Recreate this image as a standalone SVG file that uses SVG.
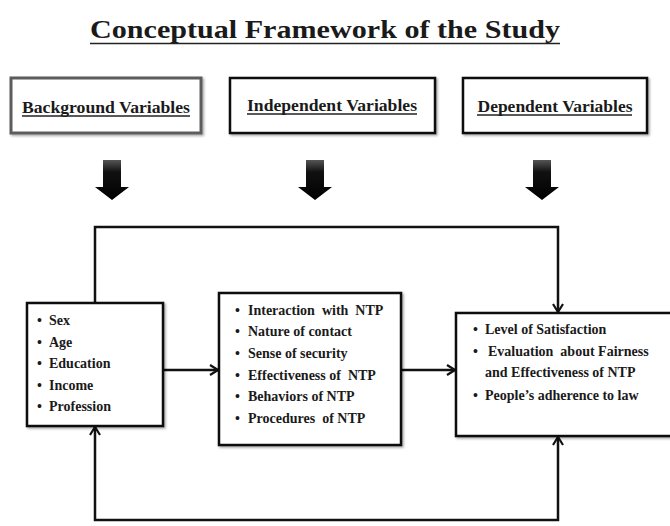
<svg xmlns="http://www.w3.org/2000/svg" width="670" height="526" viewBox="0 0 670 526">
<defs>
<style>
.t{font-family:"Liberation Serif","Times New Roman",serif;font-weight:bold;fill:#1a1a1a}
.title{font-size:25px}
.hd{font-size:16px}
.it{font-size:14px}
.box{fill:#fff;stroke:#111;stroke-width:2.5}
.ul{stroke:#222;stroke-width:1.5}
.con{fill:none;stroke:#111;stroke-width:2.5}
.blk{fill:url(#ag)}
</style>
<linearGradient id="ag" x1="0" y1="0" x2="0" y2="1">
<stop offset="0" stop-color="#555"/>
<stop offset="0.3" stop-color="#111"/>
<stop offset="1" stop-color="#000"/>
</linearGradient>
<filter id="sh" x="-5%" y="-5%" width="115%" height="115%">
<feDropShadow dx="1.5" dy="1.5" stdDeviation="1.2" flood-color="#000" flood-opacity="0.35"/>
</filter>
<marker id="ah" viewBox="0 0 10 12" refX="9" refY="6" markerWidth="10" markerHeight="12" markerUnits="userSpaceOnUse" orient="auto-start-reverse">
<path d="M1,1 L9,6 L1,11" fill="none" stroke="#111" stroke-width="2.2"/>
</marker>
</defs>
<rect width="670" height="526" fill="#fff"/>

<g id="title">
<text class="t title" x="325" y="38" text-anchor="middle" textLength="470" lengthAdjust="spacingAndGlyphs">Conceptual Framework of the Study</text>
<line class="ul" x1="90" y1="43.5" x2="560" y2="43.5" stroke-width="2"/>
</g>

<g id="hdr-background">
<rect x="11" y="78" width="190" height="55" fill="#fff" stroke="#5c5c5c" stroke-width="3" filter="url(#sh)"/>
<text class="t hd" x="106" y="113" text-anchor="middle" textLength="168" lengthAdjust="spacingAndGlyphs">Background Variables</text>
<line class="ul" x1="22" y1="116" x2="190" y2="116"/>
</g>
<g id="hdr-independent">
<rect class="box" x="230" y="78" width="205" height="55" filter="url(#sh)"/>
<text class="t hd" x="332" y="111" text-anchor="middle" textLength="170" lengthAdjust="spacingAndGlyphs">Independent Variables</text>
<line class="ul" x1="247" y1="114" x2="417" y2="114"/>
</g>
<g id="hdr-dependent">
<rect class="box" x="463" y="78" width="184" height="55" filter="url(#sh)"/>
<text class="t hd" x="555" y="112" text-anchor="middle" textLength="155" lengthAdjust="spacingAndGlyphs">Dependent Variables</text>
<line class="ul" x1="477" y1="115" x2="632" y2="115"/>
</g>

<g id="block-arrows">
<polygon class="blk" points="103,160 121,160 121,187 129,187 112,200 95,187 103,187"/>
<polygon class="blk" points="306,160 324,160 324,187 332,187 315,200 298,187 306,187"/>
<polygon class="blk" points="533,160 551,160 551,187 559,187 542,200 525,187 533,187"/>
</g>

<g id="connectors">
<path class="con" d="M95,303 V227 H558 V312" marker-end="url(#ah)"/>
<path class="con" d="M95,427 V520 H558 V437" marker-start="url(#ah)" marker-end="url(#ah)"/>
<path class="con" d="M163,370 H218" marker-end="url(#ah)"/>
<path class="con" d="M401,370 H455" marker-end="url(#ah)"/>
</g>

<g id="background">
<rect class="box" x="27" y="303" width="136" height="123" filter="url(#sh)"/>
<g class="t it">
<text x="37" y="325">•</text><text x="49" y="325">Sex</text>
<text x="37" y="346.5">•</text><text x="49" y="346.5">Age</text>
<text x="37" y="368">•</text><text x="49" y="368">Education</text>
<text x="37" y="389.5">•</text><text x="49" y="389.5">Income</text>
<text x="37" y="411">•</text><text x="49" y="411">Profession</text>
</g>
</g>

<g id="independent">
<rect class="box" x="219" y="293" width="182" height="152" filter="url(#sh)"/>
<g class="t it">
<text x="235" y="314.5">•</text><text x="248" y="314.5" xml:space="preserve">Interaction  with  NTP</text>
<text x="235" y="336">•</text><text x="248" y="336">Nature of contact</text>
<text x="235" y="357.5">•</text><text x="248" y="357.5">Sense of security</text>
<text x="235" y="379.5">•</text><text x="248" y="379.5" xml:space="preserve">Effectiveness of  NTP</text>
<text x="235" y="401">•</text><text x="248" y="401">Behaviors of NTP</text>
<text x="235" y="422.5">•</text><text x="248" y="422.5" xml:space="preserve">Procedures  of NTP</text>
</g>
</g>

<g id="dependent">
<rect class="box" x="456" y="313" width="218" height="123" filter="url(#sh)"/>
<g class="t it">
<text x="473" y="333.5">•</text><text x="485" y="333.5">Level of Satisfaction</text>
<text x="473" y="355.5">•</text><text x="488" y="355.5" xml:space="preserve">Evaluation  about Fairness</text>
<text x="485" y="377">and Effectiveness of NTP</text>
<text x="473" y="399.5">•</text><text x="485" y="399.5">People’s adherence to law</text>
</g>
</g>
</svg>
